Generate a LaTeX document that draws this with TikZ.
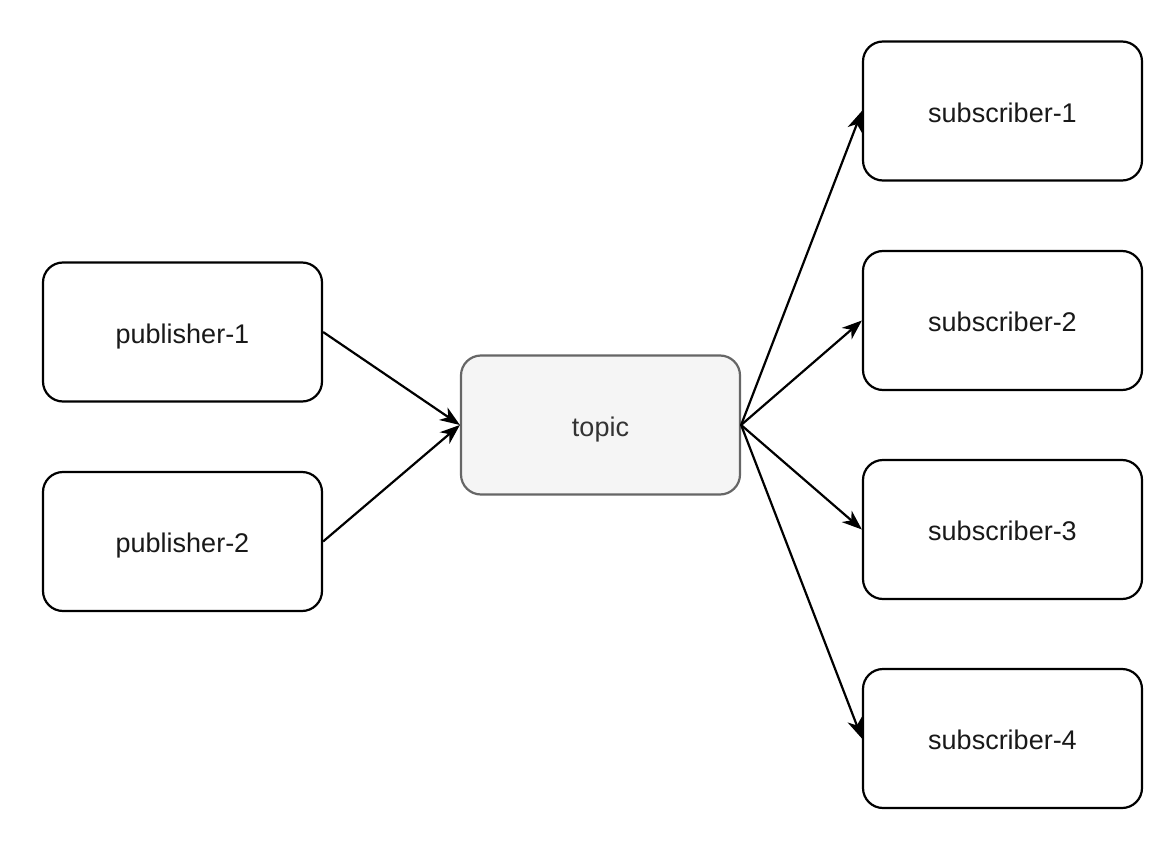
\documentclass[tikz,border=0pt]{standalone}
\usepackage{fontspec}
\setmainfont{Liberation Sans}
\usetikzlibrary{arrows.meta}
\begin{document}
\begin{tikzpicture}[x=1pt,y=-1pt,
  box/.style={draw=black, line width=2.2pt, rounded corners=20pt, minimum width=279pt, minimum height=139pt, inner sep=0pt, text height=22pt, text depth=0pt, font=\fontsize{27}{31}\selectfont, text=black!90},
  topicbox/.style={box, draw=black!60, fill=black!4, text=black!80},
  conn/.style={line width=2.2pt, -{Stealth[length=20pt,width=15pt,inset=6pt]}}]
\useasboundingbox (0,0) rectangle (1168,843);
\node[box] (p1) at (182.5,332) {publisher-1};
\node[box] (p2) at (182.5,541.5) {publisher-2};
\node[topicbox] (t) at (600.5,425) {topic};
\node[box] (s1) at (1002.5,111) {subscriber-1};
\node[box] (s2) at (1002.5,320.5) {subscriber-2};
\node[box] (s3) at (1002.5,529.5) {subscriber-3};
\node[box] (s4) at (1002.5,738.5) {subscriber-4};
\draw[conn] (p1.east) -- (t.west);
\draw[conn] (p2.east) -- (t.west);
\draw[conn] (t.east) -- (s1.west);
\draw[conn] (t.east) -- (s2.west);
\draw[conn] (t.east) -- (s3.west);
\draw[conn] (t.east) -- (s4.west);
\end{tikzpicture}
\end{document}
